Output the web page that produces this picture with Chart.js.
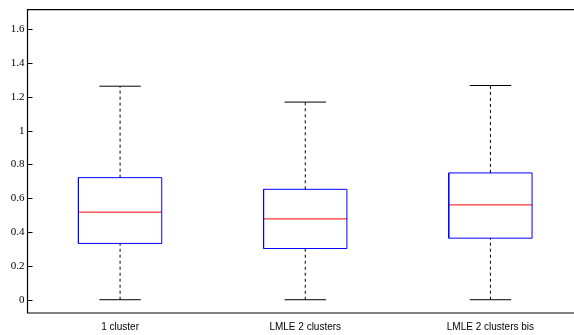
<!DOCTYPE html>
<html>
<head>
<meta charset="utf-8">
<script src="https://cdn.jsdelivr.net/npm/chart.js@4"></script>
<style>
  html, body { margin: 0; padding: 0; background: #fff; overflow: hidden; }
  #wrap { width: 574px; height: 335px; overflow: hidden; }
</style>
</head>
<body>
<div id="wrap"><canvas id="box" width="583" height="335"></canvas></div>
<script>
// boxplot data
var categories = ['1 cluster', 'LMLE 2 clusters', 'LMLE 2 clusters bis'];
var lowerWhisker = [0, 0, 0];
var q1 = [0.333, 0.303, 0.364];
var median = [0.518, 0.478, 0.561];
var q3 = [0.722, 0.653, 0.750];
var upperWhisker = [1.263, 1.169, 1.267];
var yTicks = [0, 0.2, 0.4, 0.6, 0.8, 1, 1.2, 1.4, 1.6];

var boxHalf = 0.225;
var capHalf = 0.112;

function seg(points, color, dash) {
    return {
        type: 'line',
        data: points,
        borderColor: color,
        borderWidth: 1,
        borderDash: dash || [],
        pointRadius: 0,
        fill: false,
        tension: 0
    };
}

var datasets = [];
categories.forEach(function (name, i) {
    var x = i + 1;
    // whiskers (dashed)
    datasets.push(seg([{x: x, y: q3[i]}, {x: x, y: upperWhisker[i]}], '#000', [3, 3]));
    datasets.push(seg([{x: x, y: lowerWhisker[i]}, {x: x, y: q1[i]}], '#000', [3, 3]));
    // caps
    datasets.push(seg([{x: x - capHalf, y: upperWhisker[i]}, {x: x + capHalf, y: upperWhisker[i]}], '#000'));
    datasets.push(seg([{x: x - capHalf, y: lowerWhisker[i]}, {x: x + capHalf, y: lowerWhisker[i]}], '#000'));
    // box
    datasets.push(seg([
        {x: x - boxHalf, y: q1[i]}, {x: x + boxHalf, y: q1[i]},
        {x: x + boxHalf, y: q3[i]}, {x: x - boxHalf, y: q3[i]},
        {x: x - boxHalf, y: q1[i]}
    ], '#0000ff'));
    // median
    datasets.push(seg([{x: x - boxHalf, y: median[i]}, {x: x + boxHalf, y: median[i]}], '#ff0000'));
});

// frame (top, left, bottom) and inward y ticks
var framePlugin = {
    id: 'frame',
    afterDraw: function (chart) {
        var ctx = chart.ctx;
        var a = chart.chartArea;
        var y = chart.scales.y;
        ctx.save();
        ctx.strokeStyle = '#000';
        ctx.lineWidth = 1.2;
        ctx.beginPath();
        ctx.moveTo(a.right + 5, a.top);
        ctx.lineTo(a.left, a.top);
        ctx.lineTo(a.left, a.bottom);
        ctx.lineTo(a.right + 5, a.bottom);
        ctx.stroke();
        ctx.lineWidth = 1;
        yTicks.forEach(function (v) {
            var py = Math.round(y.getPixelForValue(v)) + 0.5;
            ctx.beginPath();
            ctx.moveTo(a.left, py);
            ctx.lineTo(a.left + 5, py);
            ctx.stroke();
        });
        ctx.restore();
    }
};

new Chart(document.getElementById('box').getContext('2d'), {
    type: 'scatter',
    data: { datasets: datasets },
    plugins: [framePlugin],
    options: {
        responsive: false,
        animation: false,
        layout: { padding: { top: 9, left: 0, right: 0, bottom: 0 } },
        plugins: { legend: { display: false }, tooltip: { enabled: false } },
        scales: {
            x: {
                type: 'linear',
                min: 0.5,
                max: 3.5,
                grid: { display: false, drawTicks: false },
                border: { display: false },
                afterFit: function (s) { s.height = 22; },
                afterBuildTicks: function (s) {
                    s.ticks = categories.map(function (c, i) { return { value: i + 1 }; });
                },
                ticks: {
                    padding: 8,
                    color: '#000',
                    font: { family: 'Liberation Sans', size: 10 },
                    maxRotation: 0,
                    autoSkip: false,
                    callback: function (v) { return categories[v - 1]; }
                }
            },
            y: {
                min: -0.0785,
                max: 1.716,
                grid: { display: false, drawTicks: false },
                border: { display: false },
                afterFit: function (s) { s.width = 27.5; },
                afterBuildTicks: function (s) {
                    s.ticks = yTicks.map(function (v) { return { value: v }; });
                },
                ticks: {
                    padding: 3,
                    color: '#000',
                    font: { family: 'Liberation Serif', size: 11 },
                    callback: function (v) { return String(Math.round(v * 10) / 10); }
                }
            }
        }
    }
});
</script>
</body>
</html>
